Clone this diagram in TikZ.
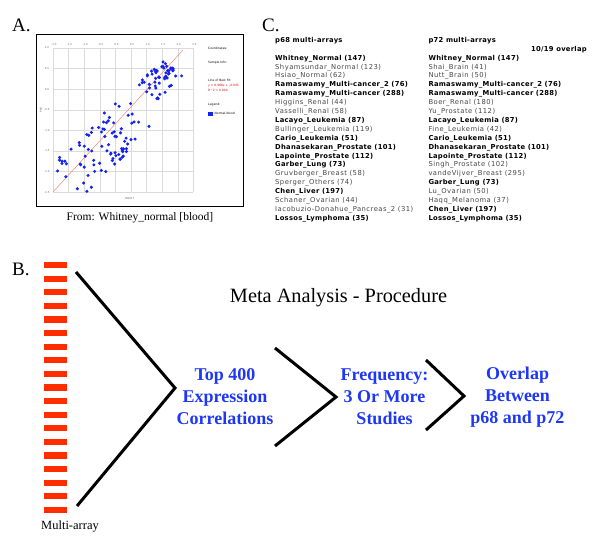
\documentclass[tikz,border=0pt]{standalone}
\usepackage{fontspec}
\setmainfont{Liberation Serif}
\newfontfamily\versans{DejaVu Sans}
\newfontfamily\listfont{DejaVu Sans}[LetterSpace=7]
\newfontfamily\listbold{DejaVu Sans}[LetterSpace=4]
\usetikzlibrary{arrows.meta}

\definecolor{barred}{RGB}{255,45,0}
\definecolor{stepblue}{RGB}{30,55,245}
\definecolor{dotblue}{RGB}{20,35,235}
\definecolor{fitred}{RGB}{245,130,120}
\newcommand{\hit}[1]{{\listbold\bfseries\color{black}#1}}

\begin{document}
\begin{tikzpicture}[x=1pt, y=-1pt,
      panel/.style={font=\fontsize{19}{19}\selectfont, anchor=base west, inner sep=0pt},
      tick/.style={font=\versans\fontsize{2.6}{3}\selectfont, text=black!60, inner sep=0.5pt},
      info/.style={font=\versans\fontsize{3}{3.6}\selectfont, anchor=west, inner sep=0pt},
      grid/.style={draw=black!14, line width=0.45pt},
      dot/.style={fill=dotblue},
      arraylist/.style={font=\listfont\fontsize{6.8}{8.9}\selectfont, anchor=north west,
                        align=left, inner sep=0pt, text=black!72},
      chevron/.style={line width=3pt, line join=miter, line cap=butt},
      stepname/.style={font=\bfseries\fontsize{18}{22}\selectfont, text=stepblue, align=center},
      bar/.style={fill=barred}
    ]
    \useasboundingbox (0,0) rectangle (600,552);

    % --- A: scatter plot of one multi-array ------------------------------------
    \node[panel] (labA) at (12,31) {A.};
    \draw[line width=0.8pt] (36,34) rectangle (243,206);
    \foreach \k in {0,...,9}
      \draw[grid] ({53+15.6*\k},48) -- ({53+15.6*\k},192.2);
    \foreach \k in {0,...,7}
      \draw[grid] (53,{48+20.6*\k}) -- (193.4,{48+20.6*\k});
    \foreach \v [count=\k from 0] in {-2.0,-1.5,-1.0,-0.5,0.0,0.5,1.0,1.5,2.0,2.5}
      \node[tick] (tx\k) at ({54+15.6*\k},45) {\v};
    \foreach \v [count=\k from 0] in {1.0,0.5,0.0,-0.5,-1.0,-1.5,-2.0,-2.5}
      \node[tick] (ty\k) at (47,{48+20.6*\k}) {\v};
    \node[tick] (xname) at (130,199) {DDX17};
    \node[tick, rotate=90] (yname) at (41,110) {P68};

    \draw[fitred, line width=0.5pt] (53,192) -- (183,50);
    \pgfmathsetseed{17}
    \begin{scope}
      \clip (53,48) rectangle (194,192);
      % upper cluster
      \foreach \i in {1,...,55} {
        \pgfmathsetmacro\ta{rand}
        \pgfmathsetmacro\sa{rand}
        \fill[dot] ({160+13*\ta+9*\sa},{80-13*\ta+9*\sa}) circle (1.7);
      }
      % lower cluster
      \foreach \i in {1,...,85} {
        \pgfmathsetmacro\ta{(rand+rand)/2}
        \pgfmathsetmacro\sa{rand}
        \fill[dot] ({100+40*\ta+16*\sa},{148-40*\ta+16*\sa}) circle (1.7);
      }
    \end{scope}

    \node[info] (coord) at (208,48) {Coordinates:};
    \node[info] (sample) at (208,63) {Sample Info:};
    \node[info] (fit) at (208,80) {Line of Best Fit:};
    \node[info, text=red!80!black] (fiteq) at (208,85.5) {y = 0.996x + -0.045};
    \node[info, text=red!80!black] (fitr) at (208,90.5) {R\textasciicircum2 = 0.944};
    \node[info] (legend) at (208,105) {Legend:};
    \fill[dotblue] (208,112) rectangle (213,115.5);
    \node[info] (legitem) at (214.5,113.8) {Normal blood};

    \node[font=\fontsize{11.5}{12}\selectfont] (capA) at (140,218)
      {From: Whitney\_normal [blood]};

    % --- C: multi-array lists ----------------------------------------------------
    \node[panel] (labC) at (262,31) {C.};
    \node[arraylist] (p68list) at (275,37)
      {\hit{p68 multi-arrays}\\[8.9pt]
       \hit{Whitney\_Normal (147)}\\
       Shyamsundar\_Normal (123)\\
       Hsiao\_Normal (62)\\
       \hit{Ramaswamy\_Multi-cancer\_2 (76)}\\
       \hit{Ramaswamy\_Multi-cancer (288)}\\
       Higgins\_Renal (44)\\
       Vasselli\_Renal (58)\\
       \hit{Lacayo\_Leukemia (87)}\\
       Bullinger\_Leukemia (119)\\
       \hit{Cario\_Leukemia (51)}\\
       \hit{Dhanasekaran\_Prostate (101)}\\
       \hit{Lapointe\_Prostate (112)}\\
       \hit{Garber\_Lung (73)}\\
       Gruvberger\_Breast (58)\\
       Sperger\_Others (74)\\
       \hit{Chen\_Liver (197)}\\
       Schaner\_Ovarian (44)\\
       Iacobuzio-Donahue\_Pancreas\_2 (31)\\
       \hit{Lossos\_Lymphoma (35)}};
    \node[arraylist] (p72list) at (428.3,37)
      {\hit{p72 multi-arrays}\\[8.9pt]
       \hit{Whitney\_Normal (147)}\\
       Shai\_Brain (41)\\
       Nutt\_Brain (50)\\
       \hit{Ramaswamy\_Multi-cancer\_2 (76)}\\
       \hit{Ramaswamy\_Multi-cancer (288)}\\
       Boer\_Renal (180)\\
       Yu\_Prostate (112)\\
       \hit{Lacayo\_Leukemia (87)}\\
       Fine\_Leukemia (42)\\
       \hit{Cario\_Leukemia (51)}\\
       \hit{Dhanasekaran\_Prostate (101)}\\
       \hit{Lapointe\_Prostate (112)}\\
       Singh\_Prostate (102)\\
       vandeVijver\_Breast (295)\\
       \hit{Garber\_Lung (73)}\\
       Lu\_Ovarian (50)\\
       Haqq\_Melanoma (37)\\
       \hit{Chen\_Liver (197)}\\
       \hit{Lossos\_Lymphoma (35)}};
    \node[font=\listbold\bfseries\fontsize{6.8}{8.9}\selectfont, anchor=base east,
          inner sep=0pt] (overlap) at (587,51.5) {10/19 overlap};

    % --- B: meta analysis procedure ---------------------------------------------
    \node[panel] (labB) at (12,275) {B.};
    \foreach \k in {0,...,18}
      \fill[bar] (44,{262+13.6*\k}) rectangle (66.5,{268.2+13.6*\k});
    \node[font=\fontsize{12.5}{13}\selectfont] (multi) at (70,527) {Multi-array};

    \node[font=\fontsize{20.3}{21}\selectfont] (title) at (338.5,298)
      {Meta Analysis - Procedure};

    \draw[chevron] (76,272) -- (175,388) -- (77,506);
    \draw[chevron] (275,348) -- (336,397) -- (275,446);
    \draw[chevron] (426,360) -- (464,396) -- (426,430);

    \node[stepname] (top) at (225,397) {Top 400\\Expression\\Correlations};
    \node[stepname] (freq) at (384.5,397) {Frequency:\\3 Or More\\Studies};
    \node[stepname] (both) at (517.5,397) {Overlap\\Between\\p68 and p72};
  \end{tikzpicture}
\end{document}
